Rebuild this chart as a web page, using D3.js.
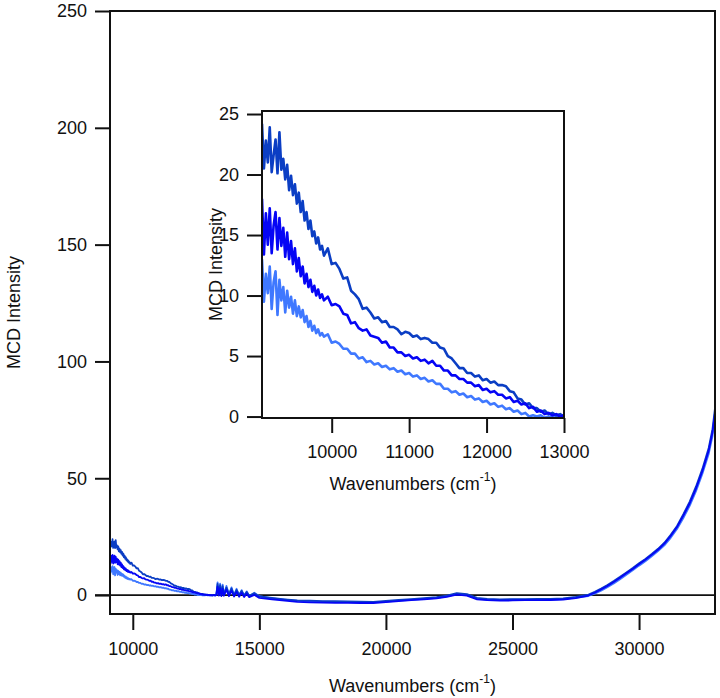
<!DOCTYPE html>
<html>
<head>
<meta charset="utf-8">
<script src="https://cdn.jsdelivr.net/npm/d3@7"></script>
<style>
  body { margin: 0; background: #fff; }
  svg { display: block; font-family: Arial, "Liberation Sans", sans-serif; }
  .axis text { font-size: 18px; fill: #111; }
  .axis line { stroke: #111; stroke-width: 2; }
  .axis path { display: none; }
  .frame { stroke: #111; stroke-width: 2; fill: none; }
</style>
</head>
<body>
<div id="chart"></div>
<script>
// Wavenumber grid of the near-IR detector (cm-1), finer where the signal is noisy
const wnLow = [
  9100, 9125, 9150, 9175, 9200, 9225, 9250, 9275, 9300, 9325,
  9350, 9375, 9400, 9425, 9450, 9475, 9500, 9525, 9550, 9575,
  9600, 9625, 9650, 9675, 9700, 9725, 9750, 9775, 9800, 9825,
  9850, 9875, 9900, 9950, 10000, 10050,
  10100, 10150, 10200, 10250, 10300, 10350, 10400, 10450, 10500, 10550,
  10600, 10650, 10700, 10750, 10800, 10850, 10900, 10950, 11000, 11050,
  11100, 11150, 11200, 11250, 11300, 11350, 11400, 11450, 11500, 11550,
  11600, 11650, 11700, 11750, 11800, 11850, 11900, 11950, 12000, 12050,
  12100, 12150, 12200, 12250, 12300, 12350, 12400, 12450, 12500, 12550,
  12600, 12650, 12700, 12750, 12800, 12850, 12900, 12950, 13000, 13050,
  13100, 13150, 13200, 13250, 13300
];

// Wavenumber grid of the visible/UV detector (cm-1)
const wnHigh = [
  13350, 13400, 13450, 13500, 13550, 13600, 13700, 13800, 13900, 14000,
  14100, 14200, 14300, 14400, 14500, 14600, 14800, 15000,
  15500, 16000, 16500, 17000, 17500, 18000, 18500, 19000, 19500, 20000,
  20500, 21000, 21500, 22000, 22400, 22800, 23200, 23600, 24000, 24500,
  25000, 25500, 26000, 26500, 27000, 27500,
  28000, 28250, 28500, 28750, 29000, 29250, 29500, 29750, 30000, 30250,
  30500, 30750, 31000, 31250, 31500, 31750, 32000, 32250, 32500, 32750,
  32900, 33000
];

// MCD intensity, dark blue trace
const darkLow = [
  24.2, 20.5, 22.8, 21.0, 23.9, 20.2, 21.6, 22.9, 20.1, 23.5,
  20.4, 21.3, 19.6, 20.8, 18.7, 19.9, 18.3, 19.2, 17.6, 18.5,
  16.9, 17.8, 16.2, 16.9, 15.5, 16.2, 14.9, 15.3, 14.3, 14.8,
  13.8, 14.1, 13.3, 13.9, 12.6, 12.7,
  12.2, 11.4, 11.5, 10.4, 10.1, 9.7, 8.9, 9.0, 8.6, 8.1,
  8.2, 7.8, 7.9, 7.4, 7.4, 7.2, 6.8, 7.0, 6.9, 6.6,
  6.7, 6.4, 6.5, 6.4, 6.1, 6.1, 5.7, 5.6, 5.0, 4.8,
  4.4, 4.0, 4.0, 3.6, 3.6, 3.3, 3.4, 3.0, 3.1, 2.8,
  2.9, 2.6, 2.6, 2.5, 2.1, 2.0, 1.5, 1.4, 1.0, 1.1,
  0.7, 0.7, 0.4, 0.5, 0.2, 0.3, 0.1, 0.2, 0.0, 0.1,
  0.0, -0.1, 0.1, -0.1, 0.0
];
const darkHigh = [
  4.8, 0.5, 4.2, 0.3, 3.8, 0.2, 3.2, 0.4, 2.8, 0.0,
  2.2, 0.1, 1.8, -0.2, 1.3, -0.3, 0.8, -0.6,
  -1.2, -1.8, -2.3, -2.4, -2.6, -2.6, -2.7, -2.8, -2.9, -2.5,
  -2.1, -1.7, -1.3, -0.9, -0.2, 0.8, 0.4, -1.2, -1.6, -1.8,
  -1.7, -1.7, -1.6, -1.6, -1.4, -0.8,
  0.2, 1.4, 2.8, 4.3, 6.0, 7.8, 9.7, 11.6, 13.6, 15.5,
  17.6, 19.8, 22.4, 25.8, 29.6, 34.6, 40.0, 46.5, 54.0, 63.0,
  71.0, 80.0
];

// MCD intensity, pure blue trace
const midLow = [
  18.0, 13.4, 16.8, 14.2, 17.2, 13.5, 15.8, 16.9, 13.8, 16.4,
  14.1, 15.6, 13.2, 15.2, 13.0, 14.5, 12.6, 13.9, 12.0, 13.1,
  11.6, 12.4, 11.0, 11.8, 10.7, 11.3, 10.3, 10.8, 10.0, 10.5,
  9.8, 10.1, 9.6, 9.9, 9.2, 9.3,
  9.1, 8.5, 8.4, 7.7, 7.8, 7.3, 7.1, 7.2, 6.7, 6.6,
  6.5, 6.1, 6.2, 5.7, 5.7, 5.3, 5.3, 5.0, 5.1, 4.8,
  4.9, 4.6, 4.7, 4.4, 4.6, 4.2, 4.2, 3.8, 3.8, 3.4,
  3.4, 3.1, 3.1, 2.8, 2.8, 2.5, 2.6, 2.2, 2.3, 2.0,
  2.1, 1.8, 1.8, 1.5, 1.6, 1.2, 1.3, 1.0, 1.1, 0.7,
  0.8, 0.4, 0.5, 0.2, 0.3, 0.1, 0.2, 0.0, 0.1, -0.1,
  0.0, -0.1, 0.1, -0.1, 0.0
];
const midHigh = [
  3.6, -0.2, 3.0, -0.4, 2.7, -0.3, 2.3, -0.5, 1.9, -0.6,
  1.4, -0.7, 1.0, -0.8, 0.6, -0.9, 0.1, -1.2,
  -1.8, -2.4, -2.9, -3.1, -3.2, -3.3, -3.3, -3.4, -3.4, -3.0,
  -2.6, -2.2, -1.8, -1.4, -0.8, 0.2, -0.2, -1.8, -2.2, -2.4,
  -2.3, -2.2, -2.2, -2.1, -1.9, -1.3,
  -0.2, 1.0, 2.4, 3.9, 5.6, 7.4, 9.3, 11.2, 13.2, 15.1,
  17.2, 19.4, 22.0, 25.3, 29.1, 34.0, 39.2, 45.6, 53.0, 61.8,
  69.6, 78.0
];

// MCD intensity, light blue trace
const lightLow = [
  13.0, 9.5, 11.8, 10.2, 12.4, 8.9, 11.1, 12.0, 8.4, 11.3,
  9.6, 10.7, 8.6, 10.4, 9.0, 9.9, 8.5, 9.6, 8.3, 9.1,
  8.2, 8.8, 7.8, 8.3, 7.4, 7.9, 7.1, 7.5, 6.9, 7.2,
  6.7, 6.9, 6.6, 6.8, 6.1, 6.2,
  6.0, 5.6, 5.6, 5.2, 5.2, 4.8, 4.9, 4.5, 4.6, 4.3,
  4.4, 4.1, 4.2, 3.9, 4.0, 3.7, 3.8, 3.5, 3.6, 3.3,
  3.4, 3.1, 3.2, 2.9, 3.0, 2.7, 2.7, 2.3, 2.3, 2.0,
  2.1, 1.8, 1.9, 1.6, 1.7, 1.4, 1.5, 1.2, 1.3, 1.0,
  1.1, 0.8, 0.9, 0.6, 0.7, 0.4, 0.5, 0.2, 0.3, 0.0,
  0.1, 0.0, 0.1, -0.1, 0.0, -0.1, 0.1, -0.1, 0.0, -0.1,
  0.0, -0.1, 0.0, -0.1, 0.0
];
const lightHigh = [
  5.4, 0.2, 4.9, 0.0, 4.5, 0.1, 3.9, 0.2, 3.3, -0.1,
  2.7, -0.2, 2.1, -0.3, 1.6, -0.4, 1.0, -0.5,
  -1.4, -2.0, -2.5, -2.7, -2.8, -2.9, -3.0, -3.1, -3.1, -2.8,
  -2.4, -2.0, -1.6, -1.2, -0.6, 0.4, 0.1, -1.5, -1.9, -2.1,
  -2.0, -2.0, -1.9, -1.9, -1.7, -1.1,
  -0.4, 0.6, 1.9, 3.4, 5.0, 6.8, 8.7, 10.6, 12.6, 14.5,
  16.6, 18.8, 21.3, 24.5, 28.3, 33.0, 38.2, 44.5, 51.8, 60.4,
  68.0, 76.0
];

const mainYTicks = [0, 50, 100, 150, 200, 250];
const mainXTicks = [10000, 15000, 20000, 25000, 30000];
const insetYTicks = [0, 5, 10, 15, 20, 25];
const insetXTicks = [10000, 11000, 12000, 13000];

// drawing order: light under, pure blue on top
const traces = [
  { name: "light", color: "#3f78ff", low: lightLow, high: lightHigh },
  { name: "dark",  color: "#0b3ec4", low: darkLow,  high: darkHigh },
  { name: "mid",   color: "#0505f5", low: midLow,   high: midHigh }
];

const W = 720, H = 698;
const svg = d3.select("#chart").append("svg")
  .attr("width", W)
  .attr("height", H);

const defs = svg.append("defs");

// Main plot area
const main = { left: 110, right: 715, top: 11, bottom: 614 };

const x = d3.scaleLinear().domain([9100, 33000]).range([main.left, main.right]);
const y = d3.scaleLinear().domain([-8.1, 250]).range([main.bottom, main.top]);

defs.append("clipPath").attr("id", "clipMain")
  .append("rect")
  .attr("x", main.left).attr("y", main.top)
  .attr("width", main.right - main.left).attr("height", main.bottom - main.top);

// zero line (runs through the 0 tick)
svg.append("line")
  .attr("x1", main.left - 15).attr("x2", main.right)
  .attr("y1", y(0)).attr("y2", y(0))
  .attr("stroke", "#111").attr("stroke-width", 1.6);

const mainLine = d3.line().x(d => x(d[0])).y(d => y(d[1]));

const gMain = svg.append("g").attr("clip-path", "url(#clipMain)");
traces.forEach(t => {
  const pts = wnLow.map((w, i) => [w, t.low[i]])
    .concat(wnHigh.map((w, i) => [w, t.high[i]]));
  gMain.append("path")
    .datum(pts)
    .attr("fill", "none")
    .attr("stroke", t.color)
    .attr("stroke-width", 1.8)
    .attr("stroke-linejoin", "round")
    .attr("d", mainLine);
});

// main axes
svg.append("g")
  .attr("class", "axis")
  .attr("transform", "translate(" + main.left + ",0)")
  .call(d3.axisLeft(y).tickValues(mainYTicks).tickSize(15).tickPadding(8).tickFormat(d3.format("d")));

svg.append("g")
  .attr("class", "axis")
  .attr("transform", "translate(0," + main.bottom + ")")
  .call(d3.axisBottom(x).tickValues(mainXTicks).tickSize(16).tickPadding(12).tickFormat(d3.format("d")));

// frame: left, bottom, right, top
svg.append("path")
  .attr("class", "frame")
  .attr("d", "M" + main.left + "," + main.top + "V" + main.bottom + "H" + main.right + "V" + main.top + "Z");

// main titles
const xTitle = svg.append("text")
  .attr("x", (main.left + main.right) / 2)
  .attr("y", 692)
  .attr("text-anchor", "middle")
  .attr("font-size", 18)
  .attr("fill", "#111");
xTitle.append("tspan").text("Wavenumbers (cm");
xTitle.append("tspan").attr("font-size", 12).attr("dy", -9).text("-1");
xTitle.append("tspan").attr("dy", 9).text(")");

svg.append("text")
  .attr("transform", "translate(20," + (main.top + main.bottom) / 2 + ") rotate(-90)")
  .attr("text-anchor", "middle")
  .attr("font-size", 18)
  .attr("fill", "#111")
  .text("MCD Intensity");

// Inset
const ins = { left: 262, right: 564, top: 111, bottom: 418 };

const xi = d3.scaleLinear().domain([9100, 13000]).range([ins.left, ins.right]);
const yi = d3.scaleLinear().domain([-0.12, 25.25]).range([ins.bottom, ins.top]);

defs.append("clipPath").attr("id", "clipInset")
  .append("rect")
  .attr("x", ins.left).attr("y", ins.top)
  .attr("width", ins.right - ins.left).attr("height", ins.bottom - ins.top);

svg.append("rect")
  .attr("x", ins.left).attr("y", ins.top)
  .attr("width", ins.right - ins.left).attr("height", ins.bottom - ins.top)
  .attr("fill", "#fff");

const insetLine = d3.line().x(d => xi(d[0])).y(d => yi(d[1]));

const gInset = svg.append("g").attr("clip-path", "url(#clipInset)");
traces.forEach(t => {
  const pts = wnLow.map((w, i) => [w, t.low[i]]);
  gInset.append("path")
    .datum(pts)
    .attr("fill", "none")
    .attr("stroke", t.color)
    .attr("stroke-width", 2.6)
    .attr("stroke-linejoin", "round")
    .attr("d", insetLine);
});

svg.append("g")
  .attr("class", "axis")
  .attr("transform", "translate(" + ins.left + ",0)")
  .call(d3.axisLeft(yi).tickValues(insetYTicks).tickSize(15).tickPadding(8).tickFormat(d3.format("d")));

svg.append("g")
  .attr("class", "axis")
  .attr("transform", "translate(0," + ins.bottom + ")")
  .call(d3.axisBottom(xi).tickValues(insetXTicks).tickSize(15).tickPadding(12).tickFormat(d3.format("d")));

svg.append("path")
  .attr("class", "frame")
  .attr("d", "M" + ins.left + "," + ins.top + "V" + ins.bottom + "H" + ins.right + "V" + ins.top + "Z");

const xiTitle = svg.append("text")
  .attr("x", (ins.left + ins.right) / 2)
  .attr("y", 490)
  .attr("text-anchor", "middle")
  .attr("font-size", 18)
  .attr("fill", "#111");
xiTitle.append("tspan").text("Wavenumbers (cm");
xiTitle.append("tspan").attr("font-size", 12).attr("dy", -9).text("-1");
xiTitle.append("tspan").attr("dy", 9).text(")");

svg.append("text")
  .attr("transform", "translate(222," + (ins.top + ins.bottom) / 2 + ") rotate(-90)")
  .attr("text-anchor", "middle")
  .attr("font-size", 18)
  .attr("fill", "#111")
  .text("MCD Intensity");
</script>
</body>
</html>
